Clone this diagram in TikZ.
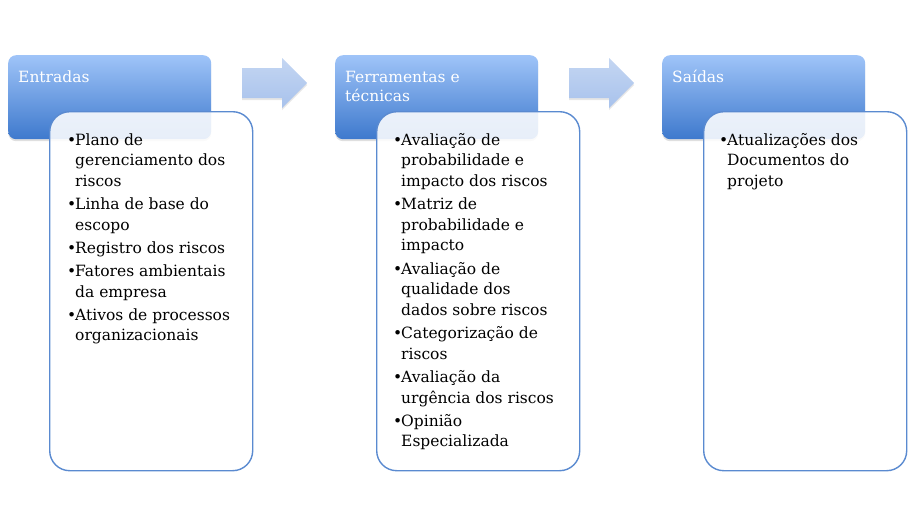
\documentclass[tikz,border=0pt]{standalone}
\usepackage{fontspec}
\setmainfont{DejaVu Serif}
\usetikzlibrary{shadows}
\definecolor{hdtop}{HTML}{9FC4F8}
\definecolor{hdbot}{HTML}{3E79CD}
\definecolor{artop}{HTML}{C4D6F2}
\definecolor{arbot}{HTML}{A8C2EC}
\definecolor{cbord}{HTML}{5A8AD0}
\newcommand\bul{\makebox[8pt][l]{•}}
\begin{document}
\begin{tikzpicture}[x=1pt,y=-1pt,
  header/.style={rounded corners=8pt, top color=hdtop, bottom color=hdbot, draw=none,
    minimum width=203pt, minimum height=84pt, anchor=north west, inner sep=0pt,
    drop shadow={opacity=0.25, shadow xshift=0pt, shadow yshift=-2pt}},
  htext/.style={anchor=base west, inner sep=0pt, text=white,
    font=\fontsize{15.5}{19.5}\selectfont},
  content/.style={rounded corners=20pt, draw=cbord, line width=1.4pt, fill=white, fill opacity=0.88,
    minimum width=203pt, minimum height=359pt, anchor=north west, inner sep=0pt},
  ltext/.style={anchor=base west, inner sep=0pt, text=black,
    font=\fontsize{15.5}{20.7}\selectfont},
  flow/.style={draw=none, top color=artop, bottom color=arbot,
    drop shadow={opacity=0.2, shadow xshift=0pt, shadow yshift=-2pt}}]
\useasboundingbox (0,0) rectangle (908,525);

% headers
\node[header] (h1) at (8,55) {};
\node[header] (h2) at (335,55) {};
\node[header] (h3) at (662,55) {};

% arrows between headers
\path[flow] (242,68) -- (282,68) -- (282,58) -- (307,83) -- (282,108) -- (282,98) -- (242,98) -- cycle;
\path[flow] (569,68) -- (609,68) -- (609,58) -- (634,83) -- (609,108) -- (609,98) -- (569,98) -- cycle;

% header texts
\node[htext] (t1) at (18,82) {Entradas};
\node[htext] (t2) at (345,82) {\begin{tabular}[t]{@{}l@{}}Ferramentas e\\técnicas\end{tabular}};
\node[htext] (t3) at (672,82) {Saídas};

% content boxes
\node[content] (c1) at (49,111) {};
\node[content] (c2) at (376,111) {};
\node[content] (c3) at (703,111) {};

% lists
\node[ltext] (l1) at (67,145) {\begin{tabular}[t]{@{}l@{}l@{}}
\bul & Plano de\\
 & gerenciamento dos\\
 & riscos\\[2.4pt]
\bul & Linha de base do\\
 & escopo\\[2.4pt]
\bul & Registro dos riscos\\[2.4pt]
\bul & Fatores ambientais\\
 & da empresa\\[2.4pt]
\bul & Ativos de processos\\
 & organizacionais
\end{tabular}};

\node[ltext] (l2) at (393,145) {\begin{tabular}[t]{@{}l@{}l@{}}
\bul & Avaliação de\\
 & probabilidade e\\
 & impacto dos riscos\\[2.4pt]
\bul & Matriz de\\
 & probabilidade e\\
 & impacto\\[2.4pt]
\bul & Avaliação de\\
 & qualidade dos\\
 & dados sobre riscos\\[2.4pt]
\bul & Categorização de\\
 & riscos\\[2.4pt]
\bul & Avaliação da\\
 & urgência dos riscos\\[2.4pt]
\bul & Opinião\\
 & Especializada
\end{tabular}};

\node[ltext] (l3) at (719,145) {\begin{tabular}[t]{@{}l@{}l@{}}
\bul & Atualizações dos\\
 & Documentos do\\
 & projeto
\end{tabular}};
\end{tikzpicture}
\end{document}
